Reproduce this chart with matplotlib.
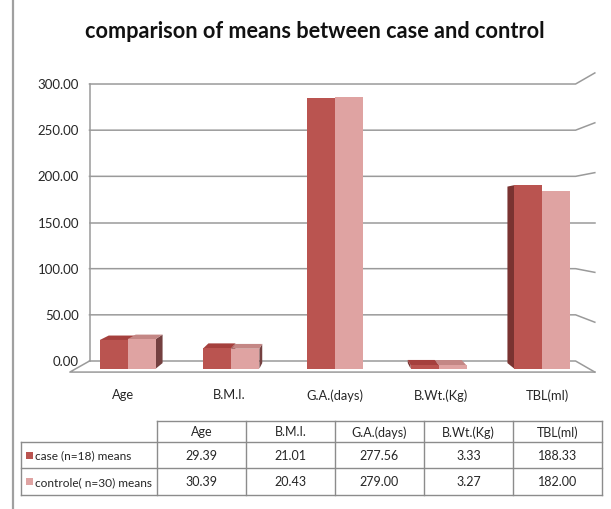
import numpy as np
import matplotlib.pyplot as plt
from matplotlib.patches import Polygon, Rectangle

plt.rcParams['font.family'] = ['Lato', 'DejaVu Sans']

categories = ['Age', 'B.M.I.', 'G.A.(days)', 'B.Wt.(Kg)', 'TBL(ml)']
series_names = ['case (n=18) means', 'controle( n=30) means']
case_means = [29.39, 21.01, 277.56, 3.33, 188.33]
control_means = [30.39, 20.43, 279.00, 3.27, 182.00]
value_labels = [['29.39', '21.01', '277.56', '3.33', '188.33'],
                ['30.39', '20.43', '279.00', '3.27', '182.00']]
y_ticks = [0, 50, 100, 150, 200, 250, 300]

# face colours: front, top, side
colors = [('#ba5450', '#a5403d', '#7a3331'),
          ('#dfa3a2', '#c48785', '#744040')]
grid_col = '#9a9a9a'
txt_col = '#262626'

W, H = 611, 510
fig = plt.figure(figsize=(W / 100, H / 100), dpi=100)

# perspective: everything shrinks toward a vanishing point in the middle of the wall
vx, vy = 2.0, 150.0
ux, uy = 98.2, 0.9233          # pixels per unit on the back wall
x_px0, y_px0 = 335.0, 362.0     # pixel position of x=2, y=0


def proj(x, y, s):
    return vx + (x - vx) * s, vy + (y - vy) * s


# chart axes, data units are back-wall units
left_px, right_px, top_px, bot_px = 70, 602, 60, 410
ax = fig.add_axes([left_px / W, 1 - bot_px / H, (right_px - left_px) / W, (bot_px - top_px) / H])
ax.set_xlim(vx + (left_px - x_px0) / ux, vx + (right_px - x_px0) / ux)
ax.set_ylim((y_px0 - bot_px) / uy, (y_px0 - top_px) / uy)
ax.axis('off')

wall_l, wall_r = -0.5, 4.45
floor_s = 1.08

# back wall grid with the side-wall continuation on the right
for v in y_ticks:
    fx, fy = proj(wall_r, v, floor_s)
    ax.plot([wall_l, wall_r, fx], [v, v, fy], color=grid_col, lw=1.1, zorder=1, clip_on=False)
    ax.text(vx + (79 - x_px0) / ux, v, f'{v:.2f}', ha='right', va='center', fontsize=9.5, color=txt_col)
ax.plot([wall_l, wall_l], [0, 300], color=grid_col, lw=1.1, zorder=1)

# floor outline
flx, fly = proj(wall_l, 0, floor_s)
frx, fry = proj(wall_r, 0, floor_s)
ax.plot([wall_l, flx, frx], [0, fly, fry], color=grid_col, lw=1.1, zorder=1, clip_on=False)

# category labels along the front edge of the floor
for i, c in enumerate(categories):
    lx, _ = proj(i, 0, floor_s)
    ax.text(lx, -36, c, ha='center', va='center', fontsize=9.3, color=txt_col)

# 3d columns
bw = 0.27
front_s, back_s = 1.055, 1.015
bars = []
for j, vals in enumerate([case_means, control_means]):
    for i, v in enumerate(vals):
        x0 = i + (j - 1) * bw
        bars.append((abs(x0 + bw / 2 - vx), x0, v, j))

for _, x0, v, j in sorted(bars, key=lambda b: -b[0]):
    x1 = x0 + bw
    fc, tc, sc = colors[j]
    f = [proj(x, y, front_s) for x, y in [(x0, 0), (x1, 0), (x1, v), (x0, v)]]
    b = [proj(x, y, back_s) for x, y in [(x0, 0), (x1, 0), (x1, v), (x0, v)]]
    if (x0 + x1) / 2 < vx:
        ax.add_patch(Polygon([f[1], f[2], b[2], b[1]], closed=True, fc=sc, ec='none', zorder=3))
    else:
        ax.add_patch(Polygon([f[0], f[3], b[3], b[0]], closed=True, fc=sc, ec='none', zorder=3))
    if v < vy:
        ax.add_patch(Polygon([f[3], f[2], b[2], b[3]], closed=True, fc=tc, ec='none', zorder=3))
    ax.add_patch(Polygon(f, closed=True, fc=fc, ec='none', zorder=3))

# overlay in pixel units for title, frame line and data table
ov = fig.add_axes([0, 0, 1, 1], facecolor='none')
ov.set_xlim(0, W)
ov.set_ylim(H, 0)
ov.axis('off')

ov.plot([13, 13], [0, H], color='#a0a0a0', lw=1.6)
ov.text(315, 32, 'comparison of means between case and control', ha='center', va='center',
        fontsize=15.6, fontweight='bold', color='#111111')

col_edges = np.linspace(157, 602, len(categories) + 1)
row_edges = [422, 443, 469, 496]
tcol = '#8c8c8c'
ov.plot([col_edges[0], col_edges[-1]], [row_edges[0]] * 2, color=tcol, lw=1)
for y in row_edges[1:]:
    ov.plot([21, col_edges[-1]], [y, y], color=tcol, lw=1)
ov.plot([21, 21], [row_edges[1], row_edges[-1]], color=tcol, lw=1)
for x in col_edges:
    ov.plot([x, x], [row_edges[0], row_edges[-1]], color=tcol, lw=1)

for k, c in enumerate(categories):
    cx = (col_edges[k] + col_edges[k + 1]) / 2
    ov.text(cx, (row_edges[0] + row_edges[1]) / 2, c, ha='center', va='center', fontsize=9, color=txt_col)
for r in range(2):
    cy = (row_edges[r + 1] + row_edges[r + 2]) / 2
    ov.add_patch(Rectangle((26, cy - 3.5), 7, 7, fc=colors[r][0], ec='none'))
    ov.text(35, cy, series_names[r], ha='left', va='center', fontsize=8.6, color=txt_col)
    for k in range(len(categories)):
        cx = (col_edges[k] + col_edges[k + 1]) / 2
        ov.text(cx, cy, value_labels[r][k], ha='center', va='center', fontsize=9, color=txt_col)

fig.savefig('out.png', dpi=100, facecolor='white')
